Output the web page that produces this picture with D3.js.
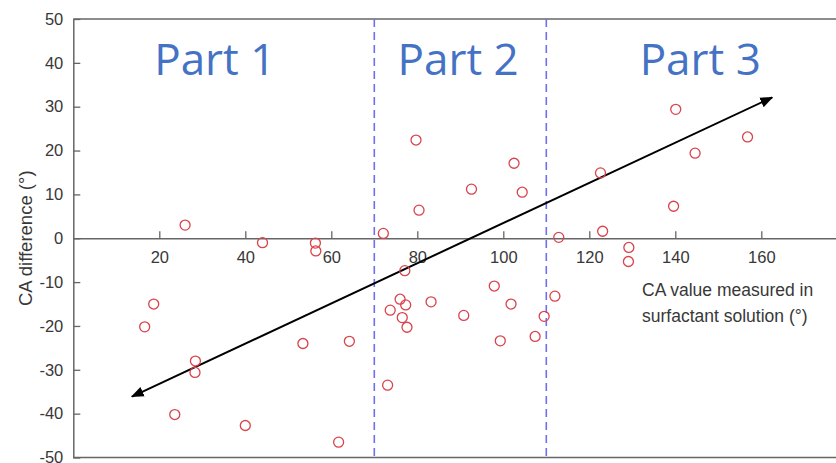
<!DOCTYPE html>
<html>
<head>
<meta charset="utf-8">
<script src="https://cdn.jsdelivr.net/npm/d3@7"></script>
<style>
  html, body { margin: 0; padding: 0; background: #fff; overflow: hidden; }
  svg { display: block; }
</style>
</head>
<body>
<svg id="chart" width="836" height="463"></svg>
<script>
// CA value measured in surfactant solution (°)
const caMeasured = [26.0, 16.6, 18.7, 28.4, 28.3, 23.6, 40.0, 44.0, 56.3, 56.4,
  53.4, 64.2, 61.7, 72.1, 73.1, 79.7, 80.4, 77.1, 76.0, 77.3,
  73.7, 76.5, 77.6, 83.2, 92.6, 90.8, 97.9, 99.3, 101.8, 102.5,
  104.4, 107.4, 109.5, 112.0, 112.9, 122.6, 123.1, 129.2, 129.1, 140.1,
  139.6, 144.6, 156.8];
// CA difference (°)
const caDifference = [3.0, -20.2, -15.0, -28.0, -30.6, -40.2, -42.7, -1.0, -1.1, -2.9,
  -24.0, -23.5, -46.5, 1.1, -33.5, 22.4, 6.4, -7.4, -13.9, -15.2,
  -16.4, -18.1, -20.3, -14.5, 11.2, -17.6, -10.9, -23.4, -15.0, 17.1,
  10.5, -22.4, -17.8, -13.2, 0.2, 14.9, 1.6, -2.1, -5.3, 29.4,
  7.3, 19.4, 23.1];

const xTicks = [20, 40, 60, 80, 100, 120, 140, 160];
const yTicks = [50, 40, 30, 20, 10, 0, -10, -20, -30, -40, -50];
const partBoundaries = [70, 110];
const partLabels = ["Part 1", "Part 2", "Part 3"];
const partCenters = [32.9, 89.5, 145.8];
const trendStart = [13.65, -36.1];
const trendEnd = [162.5, 32.1];

const svg = d3.select("#chart");
const x = d3.scaleLinear().domain([0, 180]).range([73.3, 847.3]);
const y = d3.scaleLinear().domain([-50, 50]).range([457.5, 19]);

const axisColor = "#666";
const textColor = "#383838";
const tickFont = "Liberation Sans, Arial, Helvetica, sans-serif";
const plainNumber = d => String(d);

// frame: top and bottom edges
svg.append("line").attr("x1", x(0)).attr("x2", 836).attr("y1", y(50)).attr("y2", y(50))
  .attr("stroke", axisColor).attr("stroke-width", 1.5);
svg.append("line").attr("x1", x(0)).attr("x2", 836).attr("y1", y(-50)).attr("y2", y(-50))
  .attr("stroke", axisColor).attr("stroke-width", 1.5);

// y axis with inward ticks
const yAxis = svg.append("g").attr("transform", `translate(${x(0)},0)`)
  .call(d3.axisLeft(y).tickValues(yTicks).tickFormat(plainNumber)
    .tickSizeInner(-7).tickSizeOuter(0).tickPadding(10));
yAxis.select(".domain").attr("stroke", axisColor).attr("stroke-width", 1.5);
yAxis.selectAll(".tick line").attr("stroke", axisColor).attr("stroke-width", 1.3);
yAxis.selectAll(".tick text").attr("fill", textColor).attr("font-size", 16.5)
  .attr("font-family", tickFont);

// x axis through zero, ticks pointing up
const xAxis = svg.append("g").attr("transform", `translate(0,${y(0)})`)
  .call(d3.axisBottom(x).tickValues(xTicks).tickFormat(plainNumber)
    .tickSizeInner(-7).tickSizeOuter(0).tickPadding(13));
xAxis.select(".domain").attr("stroke", axisColor).attr("stroke-width", 1.5);
xAxis.selectAll(".tick line").attr("stroke", axisColor).attr("stroke-width", 1.3);
xAxis.selectAll(".tick text").attr("fill", textColor).attr("font-size", 16.5)
  .attr("font-family", tickFont);

// part boundaries
svg.selectAll(".boundary").data(partBoundaries).join("line")
  .attr("class", "boundary")
  .attr("x1", d => x(d)).attr("x2", d => x(d))
  .attr("y1", y(50)).attr("y2", y(-50))
  .attr("stroke", "#6f6ff0").attr("stroke-width", 1.6)
  .attr("stroke-dasharray", "8,5");

// part labels
svg.selectAll(".part").data(partLabels).join("text")
  .attr("class", "part")
  .attr("x", (d, i) => x(partCenters[i]))
  .attr("y", 75)
  .attr("text-anchor", "middle")
  .attr("font-family", "Open Sans, Noto Sans, sans-serif")
  .attr("font-size", 44)
  .attr("fill", "#4472C4")
  .text(d => d);

// trend arrow
const defs = svg.append("defs");
defs.append("marker").attr("id", "arrowHead")
  .attr("viewBox", "0 0 10 10").attr("refX", 9).attr("refY", 5)
  .attr("markerWidth", 6.5).attr("markerHeight", 6.5).attr("markerUnits", "strokeWidth")
  .attr("orient", "auto-start-reverse")
  .append("path").attr("d", "M0,1 L10,5 L0,9 Z").attr("fill", "#000");
svg.append("line")
  .attr("x1", x(trendStart[0])).attr("y1", y(trendStart[1]))
  .attr("x2", x(trendEnd[0])).attr("y2", y(trendEnd[1]))
  .attr("stroke", "#000").attr("stroke-width", 2)
  .attr("marker-start", "url(#arrowHead)").attr("marker-end", "url(#arrowHead)");

// measurements
svg.selectAll(".pt").data(caMeasured).join("circle")
  .attr("class", "pt")
  .attr("cx", d => x(d))
  .attr("cy", (d, i) => y(caDifference[i]))
  .attr("r", 5)
  .attr("fill", "none")
  .attr("stroke", "#d9434b")
  .attr("stroke-width", 1.3);

// axis titles
svg.append("text")
  .attr("transform", `translate(32,${(y(50) + y(-50)) / 2}) rotate(-90)`)
  .attr("text-anchor", "middle")
  .attr("font-family", tickFont).attr("font-size", 18.5).attr("fill", textColor)
  .text("CA difference (°)");

const xTitle = svg.append("text")
  .attr("font-family", tickFont).attr("font-size", 17.5).attr("fill", textColor);
xTitle.append("tspan").attr("x", 642).attr("y", 296).text("CA value measured in");
xTitle.append("tspan").attr("x", 642).attr("y", 322).text("surfactant solution (°)");
</script>
</body>
</html>
